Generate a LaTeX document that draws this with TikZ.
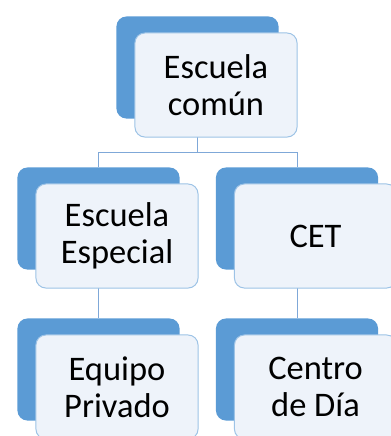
\documentclass[tikz,border=0pt]{standalone}
\usepackage{fontspec}
\setmainfont{Carlito}
\usepackage{tikz}
\usetikzlibrary{positioning,calc}
\definecolor{deep}{HTML}{5B9BD5}
\definecolor{pale}{HTML}{EEF3FA}
\definecolor{rim}{HTML}{9DC3E6}
\definecolor{wire}{HTML}{7FA8D8}

\begin{document}
\begin{tikzpicture}[x=0.025cm,y=-0.025cm,
 b/.style={fill=deep,rounded corners=7pt,minimum width=4.05cm,minimum height=2.55cm,inner sep=0pt},
 f/.style={draw=rim,line width=.7pt,fill=pale,rounded corners=7pt,minimum width=4.05cm,minimum height=2.6cm,inner sep=0pt,align=center,font=\fontsize{24.5}{26.5}\selectfont},
 w/.style={draw=wire,line width=.7pt}
]
\useasboundingbox (0,0) rectangle (390,436);
% back boxes
\node[b] (ECb) at (197.5,67.5) {};
\node[b] (EEb) at (98.5,218.5) {};
\node[b] (CETb) at (297,218.5) {};
\node[b] (EPb) at (98.5,369.5) {};
\node[b] (CDb) at (297,369.5) {};
% connectors
\coordinate (fork) at (197.5,152);
\draw[w] (ECb.south) -- (fork) -| (EEb.north);
\draw[w] (fork) -| (CETb.north);
\draw[w] (EEb.south) -- (EPb.north);
\draw[w] (CETb.south) -- (CDb.north);
% front boxes
\node[f] (EC) at ($(ECb)+(18.5,17.5)$) {Escuela\\común};
\node[f] (EE) at ($(EEb)+(18.5,17.5)$) {Escuela\\Especial};
\node[f] (CET) at ($(CETb)+(18.5,17.5)$) {CET};
\node[f] (EP) at ($(EPb)+(18.5,17.5)$) {Equipo\\Privado};
\node[f] (CD) at ($(CDb)+(18.5,17.5)$) {Centro\\de Día};
\end{tikzpicture}
\end{document}
